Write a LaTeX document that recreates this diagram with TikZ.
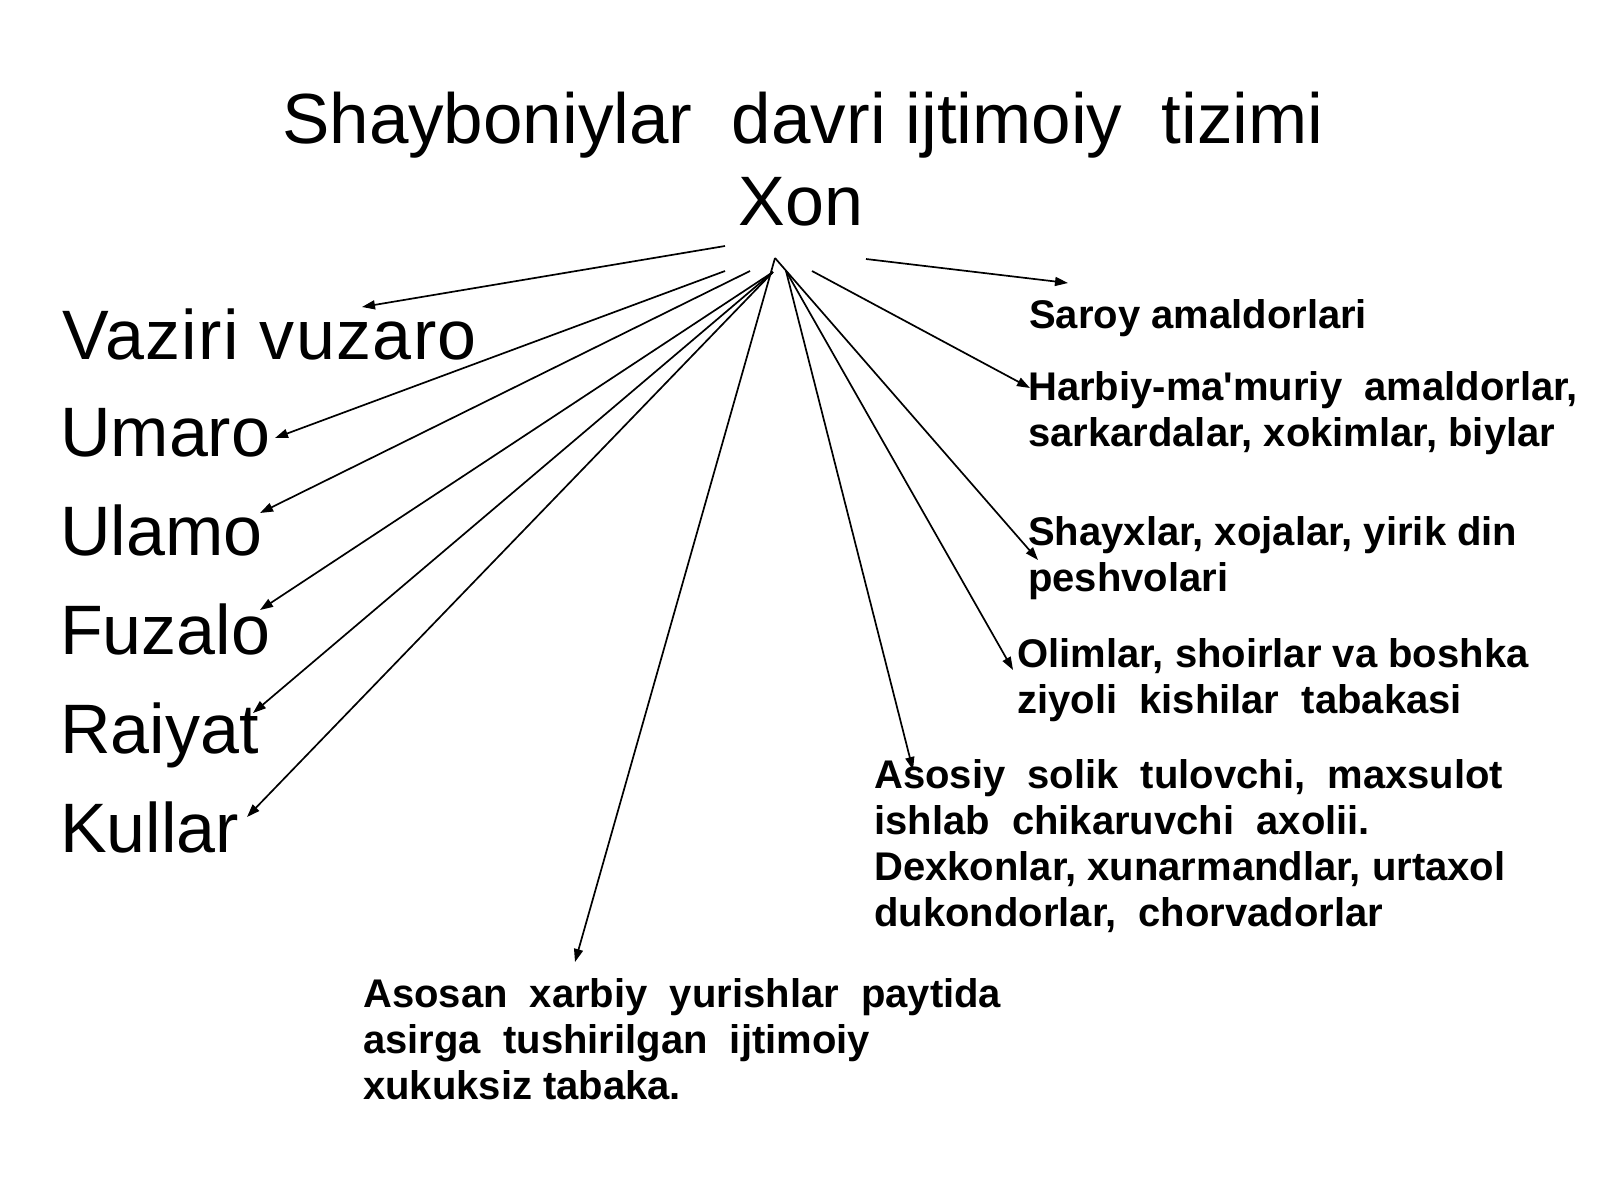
\documentclass[tikz,border=0pt]{standalone}
\usepackage{fontspec}
\setmainfont{Liberation Sans}
\usetikzlibrary{arrows.meta}
\begin{document}
\begin{tikzpicture}[x=1pt,y=-1pt,
  big/.style={inner sep=0pt, anchor=base west, font=\fontsize{70}{80}\selectfont},
  small/.style={inner sep=0pt, anchor=base west, font=\fontsize{40}{46}\selectfont\bfseries},
  conn/.style={line width=1.7pt, -{Triangle[length=13pt,width=9pt]}}]
\useasboundingbox (0,0) rectangle (1600,1200);
\fill[white] (0,0) rectangle (1600,1200);
% titles
\node[inner sep=0pt, anchor=base, font=\fontsize{71}{80}\selectfont] (title) at (803,143) {Shayboniylar~ davri ijtimoiy~ tizimi};
\node[inner sep=0pt, anchor=base, font=\fontsize{70}{80}\selectfont] (xon) at (801,225) {Xon};
% left labels
\node[big] (vaziri) at (62,359) {\addfontfeature{LetterSpace=2}Vaziri vuzaro};
\node[big] (umaro)  at (60,456) {Umaro};
\node[big] (ulamo)  at (60,555) {Ulamo};
\node[big] (fuzalo) at (60,654) {Fuzalo};
\node[big] (raiyat) at (60,753) {Raiyat};
\node[big] (kullar) at (60,852) {Kullar};
% right labels
\node[small] (saroy) at (1029,328) {Saroy amaldorlari};
\node[small] (harbiy) at (1028,400) {\vtop{\hbox{Harbiy-ma\textquotesingle muriy~ amaldorlar,}\hbox{sarkardalar, xokimlar, biylar}}};
\node[small] (shayx) at (1028,545) {\vtop{\hbox{Shayxlar, xojalar, yirik din}\hbox{peshvolari}}};
\node[small] (olim) at (1017,667) {\vtop{\hbox{Olimlar, shoirlar va boshka}\hbox{ziyoli~ kishilar~ tabakasi}}};
\node[small] (asosiy) at (874,788) {\vtop{\hbox{Asosiy~ solik~ tulovchi,~ maxsulot}\hbox{ishlab~ chikaruvchi~ axolii.}\hbox{Dexkonlar, xunarmandlar, urtaxol}\hbox{dukondorlar,~ chorvadorlar}}};
\node[small] (asosan) at (363,1007) {\vtop{\hbox{Asosan~ xarbiy~ yurishlar~ paytida}\hbox{asirga~ tushirilgan~ ijtimoiy}\hbox{xukuksiz tabaka.}}};
% connector start points near Xon
\coordinate (hApex) at (775,258);
\coordinate (hVaz) at (725,246);
\coordinate (hUma) at (725,271);
\coordinate (hUla) at (750,271);
\coordinate (hLow) at (773,272);
\coordinate (hSar) at (866,259);
\coordinate (hHar) at (812,271);
\coordinate (hMid) at (786,271);
% arrow tips
\coordinate (tVaz) at (362,307);
\coordinate (tUma) at (275,438);
\coordinate (tUla) at (260,513);
\coordinate (tFuz) at (260,610);
\coordinate (tRai) at (253,713);
\coordinate (tKul) at (247,817);
\coordinate (tAsn) at (575,962);
\coordinate (tAsy) at (913,770);
\coordinate (tOli) at (1013,670);
\coordinate (tSha) at (1038,560);
\coordinate (tHar) at (1030,388);
\coordinate (tSar) at (1068,283);
% connectors
\draw[conn] (hVaz) -- (tVaz);
\draw[conn] (hUma) -- (tUma);
\draw[conn] (hUla) -- (tUla);
\draw[conn] (hLow) -- (tFuz);
\draw[conn] (hLow) -- (tRai);
\draw[conn] (hLow) -- (tKul);
\draw[conn] (hApex) -- (tAsn);
\draw[conn] (hMid) -- (tAsy);
\draw[conn] (hMid) -- (tOli);
\draw[conn] (hApex) -- (tSha);
\draw[conn] (hHar) -- (tHar);
\draw[conn] (hSar) -- (tSar);
\end{tikzpicture}
\end{document}
